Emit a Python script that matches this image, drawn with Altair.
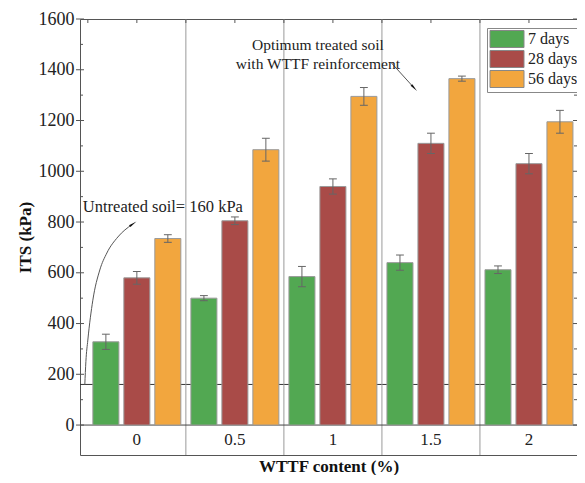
import altair as alt
import pandas as pd

# ---- data ----
contents = ["0", "0.5", "1", "1.5", "2"]
series = ["7 days", "28 days", "56 days"]
its_7 = [328, 500, 585, 640, 612]
its_28 = [580, 805, 940, 1110, 1030]
its_56 = [735, 1085, 1295, 1365, 1195]
err_7 = [30, 10, 40, 30, 15]
err_28 = [25, 15, 30, 40, 40]
err_56 = [15, 45, 35, 10, 45]
colors = ["#52a852", "#a94b48", "#f2a63e"]

untreated = 160
y_major = [0, 200, 400, 600, 800, 1000, 1200, 1400, 1600]
y_minor = [100, 300, 500, 700, 900, 1100, 1300, 1500]

# annotation paths (x in group units, y in kPa)
arrow1_x = [-0.531, -0.52, -0.5, -0.449, -0.378, -0.306, -0.194, -0.05]
arrow1_y = [158, 250, 335, 492, 611, 678, 741, 790]
arrow2_x = [2.59, 2.82]
arrow2_y = [1430, 1332]

XDOM = [-0.58, 4.49]
YDOM = [-118, 1600]
FONT = "Liberation Serif"

# ---- tables ----
rows = []
for s, vals, errs, off in [
    ("7 days", its_7, err_7, -0.316),
    ("28 days", its_28, err_28, 0.0),
    ("56 days", its_56, err_56, 0.316),
]:
    for i, (c, v, e) in enumerate(zip(contents, vals, errs)):
        rows.append({"content": c, "idx": i, "off": off, "series": s, "its": v, "err": e})
df = pd.DataFrame(rows)

xs = alt.Scale(domain=XDOM, nice=False, zero=False)
ys = alt.Scale(domain=YDOM, nice=False, zero=False)

base = alt.Chart(df).transform_calculate(
    pos="datum.idx + datum.off",
    x0="datum.idx + datum.off - 0.1327",
    x1="datum.idx + datum.off + 0.1327",
    lo="datum.its - datum.err",
    hi="datum.its + datum.err",
    c0="datum.idx + datum.off - 0.04",
    c1="datum.idx + datum.off + 0.04",
)

# separators
sep_df = pd.DataFrame({"x": [i + 0.5 for i in range(len(contents) - 1)]})
seps = alt.Chart(sep_df).mark_rule(color="#9a9a9a", strokeWidth=1).encode(
    x=alt.X("x:Q", scale=xs), y=alt.datum(YDOM[0]), y2=alt.datum(YDOM[1])
)

# top ticks
top_df = pd.DataFrame({"x": [i * 0.5 - 0.5 for i in range(2 * len(contents) + 1)]})
top_ticks = alt.Chart(top_df).mark_rule(color="#555").encode(
    x=alt.X("x:Q", scale=xs), y=alt.value(0), y2=alt.value(4)
)

# y ticks (left & right)
maj_df = pd.DataFrame({"y": y_major})
min_df = pd.DataFrame({"y": y_minor})
lt_major = alt.Chart(maj_df).mark_rule(color="#555").encode(
    y=alt.Y("y:Q", scale=ys), x=alt.value(-4), x2=alt.value(4)
)
lt_minor = alt.Chart(min_df).mark_rule(color="#555").encode(
    y=alt.Y("y:Q", scale=ys), x=alt.value(0), x2=alt.value(3)
)
rt_major = alt.Chart(maj_df).mark_rule(color="#555").encode(
    y=alt.Y("y:Q", scale=ys), x=alt.value(493), x2=alt.value(497)
)
rt_minor = alt.Chart(min_df).mark_rule(color="#555").encode(
    y=alt.Y("y:Q", scale=ys), x=alt.value(494), x2=alt.value(497)
)

# horizontal lines at 0 and 160
zero_line = alt.Chart(pd.DataFrame({"y": [0]})).mark_rule(color="#444").encode(
    y=alt.Y("y:Q", scale=ys), x=alt.value(0), x2=alt.value(497)
)
ref_line = alt.Chart(pd.DataFrame({"y": [untreated]})).mark_rule(color="#333").encode(
    y=alt.Y("y:Q", scale=ys), x=alt.value(0), x2=alt.value(497)
)

bars = base.mark_bar(stroke="#9a9a9a", strokeWidth=1).encode(
    x=alt.X("x0:Q", scale=xs,
            axis=alt.Axis(title="WTTF content (%)", labels=False, ticks=False, domain=False,
                          grid=False, titleFont=FONT, titleFontSize=17, titleFontWeight="bold",
                          titleColor="#111", titlePadding=3)),
    x2="x1:Q",
    y=alt.Y("its:Q", scale=ys,
            axis=alt.Axis(title="ITS (kPa)", values=y_major, format="d", ticks=False, domain=False,
                          grid=False, labelFont=FONT, labelFontSize=18, labelColor="#222",
                          labelPadding=6, titleFont=FONT, titleFontSize=17, titleFontWeight="bold",
                          titleColor="#111", titlePadding=4)),
    y2=alt.datum(0),
    color=alt.Color("series:N", scale=alt.Scale(domain=series, range=colors),
                    legend=alt.Legend(title=None)),
)

ebars = base.mark_rule(color="#666", strokeWidth=1).encode(
    x=alt.X("pos:Q", scale=xs), y=alt.Y("lo:Q", scale=ys), y2="hi:Q"
)
ecap_hi = base.mark_rule(color="#666", strokeWidth=1).encode(
    x=alt.X("c0:Q", scale=xs), x2="c1:Q", y=alt.Y("hi:Q", scale=ys)
)
ecap_lo = base.mark_rule(color="#666", strokeWidth=1).encode(
    x=alt.X("c0:Q", scale=xs), x2="c1:Q", y=alt.Y("lo:Q", scale=ys)
)

# category labels in the bottom row
lab_df = pd.DataFrame({"content": contents, "idx": list(range(len(contents)))})
cat_labels = alt.Chart(lab_df).mark_text(font=FONT, fontSize=17, color="#222", baseline="middle").encode(
    x=alt.X("idx:Q", scale=xs), y=alt.datum(-59), text="content:N"
)

# annotations
a1 = pd.DataFrame({"x": arrow1_x, "y": arrow1_y, "o": list(range(len(arrow1_x)))})
arrow1 = alt.Chart(a1).mark_line(color="#555", strokeWidth=1, interpolate="monotone").encode(
    x=alt.X("x:Q", scale=xs), y=alt.Y("y:Q", scale=ys), order="o:Q"
)
head1 = alt.Chart(a1.tail(1)).mark_point(shape="wedge", filled=True, color="#111", size=90,
                                         angle=55, opacity=1).encode(
    x=alt.X("x:Q", scale=xs), y=alt.Y("y:Q", scale=ys)
)
a2 = pd.DataFrame({"x": arrow2_x, "y": arrow2_y, "o": [0, 1]})
arrow2 = alt.Chart(a2).mark_line(color="#555", strokeWidth=1).encode(
    x=alt.X("x:Q", scale=xs), y=alt.Y("y:Q", scale=ys), order="o:Q"
)
head2 = alt.Chart(a2.tail(1)).mark_point(shape="wedge", filled=True, color="#111", size=90,
                                         angle=137, opacity=1).encode(
    x=alt.X("x:Q", scale=xs), y=alt.Y("y:Q", scale=ys)
)

t1 = alt.Chart(pd.DataFrame({"x": [-0.551], "y": [859], "t": ["Untreated soil= 160 kPa"]})).mark_text(
    font=FONT, fontSize=16.5, color="#222", align="left", baseline="middle"
).encode(x=alt.X("x:Q", scale=xs), y=alt.Y("y:Q", scale=ys), text="t:N")

t2 = alt.Chart(pd.DataFrame({"x": [1.847], "y": [1496],
                             "t": ["Optimum treated soil\nwith WTTF reinforcement"]})).mark_text(
    font=FONT, fontSize=15.5, color="#222", align="center", baseline="middle", lineBreak="\n",
    lineHeight=19
).encode(x=alt.X("x:Q", scale=xs), y=alt.Y("y:Q", scale=ys), text="t:N")

chart = alt.layer(
    ref_line, seps, zero_line, bars, ebars, ecap_hi, ecap_lo, cat_labels,
    top_ticks, lt_major, lt_minor, rt_major, rt_minor,
    arrow1, head1, arrow2, head2, t1, t2,
).properties(
    width=497, height=436,
    autosize=alt.AutoSizeParams(type="none"),
    padding={"left": 72, "top": 11, "right": 0, "bottom": 20},
).configure_view(
    stroke="#555", strokeWidth=1
).configure_legend(
    orient="none", legendX=407, legendY=9,
    strokeColor="#888", fillColor="white", padding=2,
    symbolType="M-2,-1H2V1H-2Z", symbolSize=289, symbolOffset=9,
    symbolStrokeColor="#888", symbolStrokeWidth=1, symbolOpacity=1,
    labelFont=FONT, labelFontSize=16, labelColor="#222", rowPadding=-3, labelOffset=12,
)

chart.save("out.html", embed_options={"renderer": "svg", "actions": False})
